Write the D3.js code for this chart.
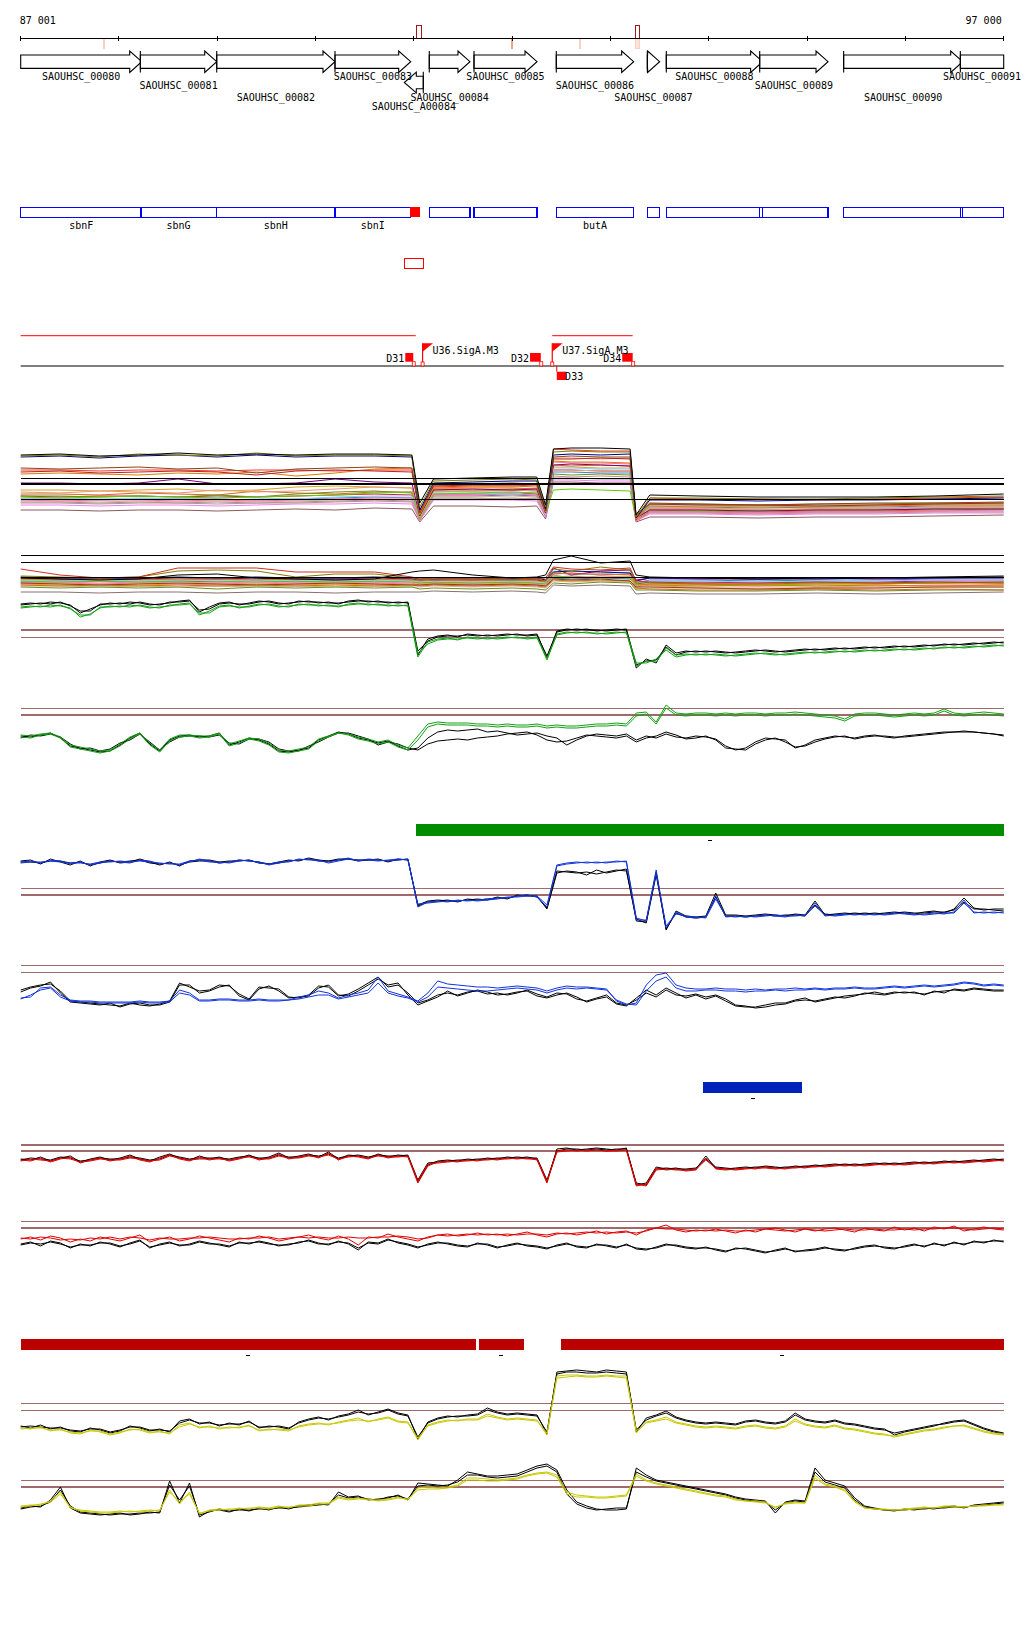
<!DOCTYPE html>
<html>
<head>
<meta charset="utf-8">
<script src="https://cdn.jsdelivr.net/npm/d3@7"></script>
<style>
  body { margin: 0; background: #fff; }
  svg { display: block; }
  text { font-family: "DejaVu Sans Mono", "Liberation Mono", monospace; font-size: 10px; fill: #000; }
</style>
</head>
<body>
<svg id="chart" width="1024" height="1640"></svg>
<script>
// ---- region shown ----
const viewStart = 87001
const viewEnd = 97000
const rulerTicks = [87001, 88000, 89000, 90000, 91000, 92000, 93000, 94000, 95000, 96000, 97000]

// ---- annotation ----
const geneNames = ["SAOUHSC_00080", "SAOUHSC_00081", "SAOUHSC_00082", "SAOUHSC_00083", "SAOUHSC_A00084", "SAOUHSC_00084",
  "SAOUHSC_00085", "SAOUHSC_00086", "SAOUHSC_00087", "SAOUHSC_00088", "SAOUHSC_00089", "SAOUHSC_00090", "SAOUHSC_00091"]
const geneStarts = [86900, 88218, 88995, 90198, 90903, 91157, 91612, 92449, 93375, 93568, 94518, 95372, 96559]
const geneEnds = [88232, 88995, 90198, 90968, 91096, 91571, 92253, 93236, 93500, 94548, 95213, 96583, 97300]
const geneStrands = [1, 1, 1, 1, -1, 1, 1, 1, 1, 1, 1, 1, 1]
const geneSymbols = ["sbnF", "sbnG", "sbnH", "sbnI", "", "", "", "butA", "", "", "", "", ""]
const smallRnas = [[90963, 91061]]

const rulerMarks = [
  {start: 87842, end: 87856, kind: "weak"},
  {start: 91030, end: 91075, kind: "strong"},
  {start: 91990, end: 92005, kind: "mid"},
  {start: 92680, end: 92700, kind: "weak"},
  {start: 93253, end: 93294, kind: "strong"},
  {start: 93253, end: 93294, kind: "weak"}
]

const transcriptUnits = [[87001, 91019], [92408, 93226]]
const terminators = [
  {name: "D31", start: 90913, end: 90994, strand: 1},
  {name: "D32", start: 92182, end: 92291, strand: 1},
  {name: "D33", start: 92454, end: 92549, strand: -1},
  {name: "D34", start: 93120, end: 93226, strand: 1}
]
const promoters = [{name: "U36.SigA.M3", pos: 91089}, {name: "U37.SigA.M3", pos: 92408}]

// ---- segment bars ----
const greenSegments = [[91022, 97000]]
const blueSegments = [[93942, 94949]]
const redSegments = [[87001, 91628], [91660, 92117], [92492, 97000]]

// ---- probe positions ----
const probePos = d3.range(0, 100).map(i => 87001 + i * 101)
const coarsePos = [87001, 87400, 87800, 88200, 88600, 89000, 89400, 89800, 90200, 90600, 90980, 91060, 91200, 91600,
  92000, 92250, 92340, 92420, 92600, 92900, 93200, 93260, 93400, 93900, 94500, 95100, 95700, 96300, 97000]

// ---- bundle tracks (many conditions) ----
const bundleA = [
  [70,71,69,70,72,70,71,70,71,71, 70, 22, 46,47,48,48, 20, 76,77,77,76, 10, 30,29,28,28,28,29,31],
  [69,70,68,71,70,69,72,69,70,70, 69, 18, 44,45,46,45, 18, 73,74,73,73, 8, 27,27,26,26,27,28,29],
  [68,69,67,69,70,68,70,68,69,69, 68, 15, 42,43,44,44, 16, 70,71,70,71, 7, 25,25,24,25,25,26,27],
  [57,56,57,58,56,57,52,56,57,58, 57, 12, 40,41,42,41, 14, 68,69,68,68, 9, 22,21,20,21,22,22,23],
  [53,54,52,53,54,53,50,54,55,54, 53, 14, 39,40,40,41, 15, 66,66,67,66, 11, 21,20,20,19,20,21,22],
  [51,52,51,50,52,51,53,49,52,56, 57, 10, 37,38,38,39, 13, 64,63,63,62, 6, 19,18,18,18,19,20,20],
  [55,55,54,55,55,54,55,55,54,55, 55, 11, 38,39,39,40, 14, 76,75,74,74, 5, 27,26,26,25,26,27,28],
  [42,42,41,42,46,41,41,42,46,43, 42, 9, 35,36,35,36, 12, 60,61,60,59, 7, 15,15,14,15,15,16,16],
  [33,32,34,33,32,35,33,34,36,38, 37, 8, 33,34,34,35, 11, 67,67,66,67, 5, 17,17,16,16,17,18,19],
  [28,27,28,29,28,27,28,29,30,32, 33, 6, 31,32,33,32, 12, 35,36,35,34, 6, 15,14,14,15,15,16,16],
  [27,27,26,27,27,28,27,26,28,29, 29, 7, 32,32,31,33, 10, 57,57,56,56, 6, 19,19,18,19,19,20,20],
  [25,24,25,25,24,25,24,25,26,27, 27, 5, 30,30,31,30, 9, 63,62,62,61, 4, 13,13,12,13,13,14,14],
  [24,24,23,24,23,24,23,24,25,26, 25, 6, 28,28,29,28, 10, 55,54,55,54, 5, 16,16,15,16,16,17,17],
  [29,29,28,29,28,30,28,31,33,34, 32, 8, 34,34,35,34, 11, 51,50,51,50, 7, 21,21,20,21,21,22,22],
  [26,26,25,26,26,26,25,26,27,28, 27, 7, 29,29,30,29, 10, 53,53,52,52, 6, 18,18,17,18,18,19,19],
  [31,31,30,32,31,30,34,32,31,33, 33, 7, 36,35,36,37, 11, 60,59,60,59, 5, 14,14,13,14,14,15,16],
  [22,22,21,22,22,21,22,22,23,24, 23, 5, 27,27,26,27, 9, 49,48,49,48, 4, 12,12,11,12,12,13,13],
  [23,23,22,23,22,23,22,23,24,25, 24, 6, 26,26,27,26, 9, 47,47,46,46, 5, 13,13,12,13,13,14,15],
  [20,20,19,20,20,19,20,21,21,22, 21, 4, 25,25,25,24, 8, 45,45,44,44, 4, 11,11,10,11,11,12,12],
  [15,15,14,15,15,14,15,16,15,17, 16, 3, 19,19,18,19, 6, 43,43,42,42, 3, 8,8,7,8,8,9,10],
  [35,35,34,35,36,34,35,38,39,38, 37, 8, 36,37,37,36, 12, 58,58,57,57, 6, 20,20,19,20,20,21,21],
  [29,28,29,29,28,29,28,29,30,31, 30, 6, 31,31,32,31, 10, 55,55,54,54, 5, 16,16,15,16,16,17,17]
]
const bundleARefs = [46.7, 41, 25.7]

const bundleB = [
  [27,26,25,26,30,31,27,26,25,26, 33, 34, 35,30,27,28, 30, 45,49,42,44, 30, 28,27,26,27,27,28,29],
  [36,30,27,28,37,37,37,33,33,33, 28, 26, 27,26,27,26, 27, 38,36,35,37, 24, 23,22,22,23,22,23,22],
  [29,28,27,28,34,35,34,28,31,31, 27, 25, 26,26,25,26, 24, 36,34,38,35, 22, 22,21,21,22,22,22,23],
  [28,27,27,27,28,27,28,27,27,28, 27, 26, 26,27,26,27, 25, 33,34,33,32, 24, 27,27,26,26,27,27,28],
  [26,25,26,25,26,26,25,26,25,26, 25, 24, 25,24,25,24, 23, 32,31,31,30, 21, 20,19,20,19,20,19,20],
  [27,26,26,26,27,26,27,26,26,27, 26, 25, 25,25,26,25, 24, 37,30,34,35, 25, 27,26,26,27,26,27,27],
  [25,24,25,24,25,25,24,25,24,25, 24, 23, 24,23,24,23, 22, 34,30,31,33, 22, 24,24,23,24,24,25,25],
  [24,23,24,23,24,24,23,24,23,24, 23, 22, 23,22,23,22, 21, 29,28,27,28, 20, 21,21,20,21,21,22,22],
  [22,21,20,21,22,21,20,21,22,21, 20, 20, 21,20,21,20, 19, 26,25,26,24, 18, 18,17,16,17,17,18,18],
  [23,22,23,22,23,22,23,22,23,22, 23, 21, 22,21,22,21, 20, 30,27,29,28, 19, 19,18,18,18,19,19,20],
  [21,22,21,22,21,21,22,21,22,21, 22, 20, 21,20,21,20, 19, 28,29,27,28, 18, 20,20,19,20,19,20,20],
  [20,19,20,19,20,19,20,19,20,19, 20, 19, 20,19,20,19, 18, 25,24,25,24, 17, 16,15,15,16,15,16,15],
  [25,25,26,26,25,26,26,25,26,25, 26, 24, 25,25,24,25, 23, 27,26,27,26, 22, 25,25,24,25,25,26,26],
  [13,13,12,13,13,12,13,13,12,13, 13, 13, 14,13,14,13, 12, 20,19,20,19, 11, 12,11,11,12,11,12,13],
  [18,17,18,17,18,16,18,17,18,17, 18, 16, 17,16,17,16, 15, 22,21,23,22, 15, 15,14,14,15,14,15,15],
  [19,19,18,19,18,19,18,19,18,19, 18, 18, 19,18,19,18, 17, 24,23,24,23, 16, 17,17,16,17,17,18,18],
  [23,23,24,23,24,23,24,23,24,23, 24, 22, 23,22,23,22, 21, 31,32,30,31, 21, 23,23,22,23,23,24,24],
  [21,20,21,20,21,20,21,20,21,20, 21, 20, 21,21,20,21, 19, 27,26,27,26, 19, 21,21,20,21,21,22,22]
]
const bundleBRefs = [49.3, 42.7, 27.7]

// ---- paired tracks ----
const trC_black1 = [71,72,71,73,72,70,62,66,70,72, 71,73,72,70,71,72,74,75,63,68, 72,73,70,72,74,73,71,72,73,74, 72,73,71,74,75,73,74,72,73,72,
  20,36,39,40,38,41,40,39,40,41, 40,40,41,17,44,46,45,46,44,45, 46,45,7,16,12,30,22,24,23,24, 23,22,23,24,25,24,23,24,25,26,
  25,26,27,26,27,28,27,28,29,28, 29,30,29,31,30,31,32,31,32,33]
const trC_black2 = [70,71,72,71,73,69,64,64,71,71, 72,71,73,71,70,73,73,74,65,66, 71,72,71,71,73,74,72,71,74,73, 73,72,72,73,74,74,73,73,72,73,
  24,34,38,39,39,40,39,40,39,40, 41,39,40,19,43,45,46,45,45,44, 45,46,10,14,15,28,20,23,24,23, 24,23,22,23,24,25,24,23,24,25,
  26,25,26,27,26,27,28,27,28,29, 28,29,30,30,31,30,31,32,33,32]
const trC_green1 = [68,69,68,70,69,67,58,61,67,69, 68,70,69,67,68,69,71,72,60,64, 69,70,67,69,71,70,68,69,70,71, 69,70,68,71,72,70,71,69,70,69,
  18,33,36,37,35,38,37,36,37,38, 37,37,38,15,41,43,42,43,41,42, 43,42,9,14,13,27,20,21,20,21, 20,19,20,21,22,21,20,21,22,23,
  22,23,24,23,24,25,24,25,26,25, 26,27,26,28,27,28,29,28,29,30]
const trC_green2 = [67,68,69,68,70,66,60,60,68,68, 69,68,70,68,67,70,70,71,62,62, 68,69,68,68,70,71,69,68,71,70, 70,69,69,70,71,71,70,70,69,70,
  22,31,35,36,36,37,36,37,36,37, 38,36,37,17,40,42,43,42,42,41, 42,43,12,12,16,25,18,20,21,20, 21,20,19,20,21,22,21,20,21,22,
  23,22,23,24,23,24,25,24,25,26, 25,26,27,27,28,27,28,29,30,29]
const trC_refs = [45, 37.7]

const trD_black1 = [24,23,25,27,22,14,12,10,8,9, 15,22,27,16,9,20,24,25,23,24, 27,15,18,22,20,16,9,8,10,12, 20,24,28,26,22,20,17,19,14,10,
  12,22,28,30,29,30,31,28,29,27, 25,26,27,24,22,15,20,24,26,25, 24,26,20,24,22,26,23,22,24,23, 21,14,10,12,18,22,21,20,12,15,
  20,22,24,23,22,24,25,23,22,24, 25,26,27,28,28,29,28,27,26,24]
const trD_black2 = [22,25,24,26,23,16,11,12,9,11, 17,20,26,18,10,18,23,24,24,23, 25,17,16,21,21,18,11,9,9,14, 18,23,27,27,24,21,15,18,16,12,
  10,16,19,20,21,20,22,23,24,26, 27,28,25,20,18,19,22,25,24,23, 22,24,18,22,24,28,25,21,22,24, 20,12,11,10,16,20,22,18,13,14,
  18,21,23,24,21,23,24,24,23,23, 24,25,26,27,28,28,28,27,26,25]
const trD_green1 = [25,24,26,27,23,15,13,11,9,10, 16,23,27,17,10,21,25,25,24,24, 27,16,19,22,21,17,10,9,11,13, 21,24,27,26,23,21,18,20,15,12,
  24,36,38,37,37,37,36,36,35,36, 35,35,36,34,35,34,34,35,36,36, 37,36,47,48,38,55,47,46,47,47, 46,47,46,47,47,46,47,47,48,47,
  46,45,44,41,46,47,47,46,45,46, 47,46,47,51,47,46,47,48,47,46]
const trD_green2 = [23,22,25,26,22,13,11,9,7,9, 14,21,26,15,8,19,23,24,22,23, 26,14,17,21,19,15,8,7,9,11, 19,23,27,25,21,19,16,18,13,10,
  20,33,36,35,35,35,34,34,33,34, 33,33,34,32,33,32,32,33,34,34, 35,34,44,46,36,52,45,44,45,45, 44,45,44,45,45,44,45,45,46,45,
  44,43,42,39,44,45,45,44,43,44, 45,44,45,49,45,44,45,46,45,44]
const trD_refs = [51.7, 45]

const trF_blue1 = [73,74,72,75,74,71,73,70,72,74, 73,72,75,74,71,72,70,73,76,74, 72,73,75,74,73,70,72,74,75,76, 74,73,75,77,74,76,75,74,75,76,
  28,33,34,33,35,34,35,36,37,37, 39,40,38,28,70,72,73,72,73,72, 74,73,15,15,65,7,23,18,17,18, 39,18,19,18,19,20,19,18,20,19,
  32,19,20,21,20,21,20,21,22,21, 20,21,22,21,23,35,22,23,22,23]
const trF_blue2 = [72,73,73,74,73,72,72,71,73,73, 74,73,74,73,72,71,71,74,75,73, 73,72,74,75,72,71,73,73,76,75, 75,72,74,76,75,75,74,75,76,75,
  31,32,33,34,34,35,34,35,36,38, 38,39,39,30,69,71,72,73,72,73, 73,74,17,14,62,9,21,19,18,17, 36,19,18,19,18,19,20,19,19,20,
  29,20,19,20,21,20,21,20,21,22, 21,20,21,22,22,32,23,22,23,22]
const trF_black1 = [74,75,71,76,73,70,74,69,73,75, 72,73,76,73,70,73,69,74,75,75, 73,74,74,75,72,71,73,75,74,77, 75,74,76,76,75,75,76,73,76,75,
  30,34,35,34,34,35,36,35,38,36, 40,39,39,26,62,64,63,60,65,62, 64,66,14,13,63,5,24,19,18,19, 42,20,20,19,20,21,20,19,21,20,
  34,20,21,22,21,22,21,22,23,22, 21,23,24,22,26,37,27,25,26,26]
const trF_black2 = [73,73,72,74,74,72,73,70,72,74, 73,74,75,72,71,72,70,73,74,74, 72,73,75,74,73,71,72,74,75,76, 74,74,75,76,74,75,75,74,75,76,
  29,33,34,35,33,36,35,36,37,37, 39,40,38,27,64,63,62,63,61,63, 65,64,16,12,60,6,22,18,17,18, 38,19,19,18,19,20,19,20,20,19,
  30,21,20,21,22,21,22,21,22,23, 22,22,23,23,25,33,26,26,25,24]
const trF_refs = [46.7, 40]

const trG_black1 = [25,28,30,31,24,14,13,12,11,10, 9,12,10,9,11,14,32,28,24,25, 30,29,21,16,28,27,26,18,17,20, 29,28,19,21,26,32,38,28,30,22,
  12,15,20,22,20,23,24,21,22,20, 22,25,21,18,22,21,16,14,17,20, 12,10,15,22,18,25,20,19,21,18, 20,16,10,9,7,8,10,11,14,15,
  14,16,18,17,19,22,21,20,22,23, 22,21,23,24,25,24,26,25,24,24]
const trG_black2 = [23,27,29,33,22,13,12,11,10,12, 8,11,12,10,10,13,30,30,22,24, 28,30,19,15,26,29,24,17,18,19, 27,30,20,19,24,30,36,30,32,20,
  10,14,18,24,19,22,25,23,20,21, 23,24,19,17,20,22,18,13,16,18, 11,9,17,25,20,27,22,17,20,16, 19,14,9,8,8,10,12,12,15,17,
  13,15,17,19,20,21,23,21,23,22, 23,20,24,22,26,25,27,26,25,25]
const trG_blue1 = [17,18,27,28,20,15,14,14,13,13, 13,13,14,13,13,14,25,22,15,15, 16,16,15,15,16,15,15,15,18,20, 24,22,17,20,22,25,38,24,21,18,
  14,22,34,31,30,29,28,28,27,28, 29,28,27,24,27,29,28,28,27,26, 14,10,12,30,40,42,30,27,26,26, 27,26,26,25,26,25,26,26,27,26,
  27,26,27,27,28,27,27,28,29,28, 29,30,29,30,31,33,32,30,31,30]
const trG_blue2 = [16,20,25,27,18,14,13,13,12,12, 12,12,13,12,12,13,22,20,14,14, 15,15,14,14,15,14,14,15,16,18, 20,20,16,18,20,22,32,22,19,17,
  13,18,28,27,26,25,24,24,25,26, 27,26,25,22,25,27,26,27,26,25, 15,11,10,24,34,38,27,24,24,25, 25,24,24,23,24,24,25,24,25,25,
  26,25,26,26,27,26,26,27,28,27, 28,29,28,29,30,32,31,29,30,29]
const trG_refs = [49.7, 42.7]

const trI_black1 = [36,35,38,34,37,39,33,36,38,35, 37,40,36,34,38,41,37,35,39,36, 38,35,37,40,36,38,42,37,39,41, 38,43,36,40,39,37,41,38,40,39,
  13,30,34,35,34,36,35,37,36,38, 37,38,36,13,46,47,45,46,47,46, 45,47,10,12,28,26,27,25,26,39, 27,26,27,28,27,29,28,27,29,28,
  30,29,30,31,30,31,32,31,32,31, 32,33,32,34,33,34,35,34,35,36]
const trI_black2 = [35,37,36,35,38,37,34,35,37,36, 36,38,37,35,36,40,38,36,37,37, 37,36,38,39,37,37,40,38,38,40, 39,41,37,39,40,38,40,39,39,40,
  15,32,33,34,35,35,36,36,37,37, 38,37,37,15,44,46,46,45,46,45, 46,46,12,10,26,27,26,26,27,36, 28,27,26,27,28,28,27,28,28,29,
  29,30,31,30,31,30,31,32,31,32, 33,32,33,33,34,33,34,35,36,35]
const trI_red1 = [35,34,37,33,36,38,32,35,37,34, 36,39,35,33,37,40,36,34,38,35, 37,34,36,39,35,37,41,36,38,40, 37,42,35,39,38,36,40,37,39,38,
  12,29,33,34,33,35,34,36,35,37, 36,37,35,12,44,45,44,45,45,44, 44,45,9,11,27,25,26,24,25,37, 26,25,26,27,26,28,27,26,28,27,
  29,28,29,30,29,30,31,30,31,30, 31,32,31,33,32,33,34,33,34,35]
const trI_red2 = [34,36,35,34,37,36,33,34,36,35, 35,37,36,34,35,39,37,35,36,36, 36,35,37,38,36,36,39,37,37,39, 38,40,36,38,39,37,39,38,38,39,
  14,31,32,33,34,34,35,35,36,36, 37,36,36,14,43,44,45,44,45,44, 45,45,11,9,25,26,25,25,26,35, 27,26,25,26,27,27,26,27,27,28,
  28,29,30,29,30,29,30,31,30,31, 32,31,32,32,33,32,33,34,35,34]
const trI_refs = [50, 44]

const trJ_black1 = [21,23,19,24,22,17,21,19,23,21, 18,22,25,17,21,23,19,21,24,22, 20,18,23,21,24,22,19,21,22,25, 22,20,24,21,15,23,22,26,22,20,
  17,21,23,21,19,18,22,20,17,20, 22,19,18,16,20,22,18,17,21,19, 17,21,16,15,18,21,19,17,16,18, 15,13,17,16,14,12,15,17,13,15,
  16,18,15,14,17,19,20,17,16,19, 21,18,22,19,23,20,24,22,25,23]
const trJ_black2 = [20,22,21,23,21,18,20,20,22,22, 19,21,24,18,20,22,20,20,23,21, 21,19,22,22,23,21,20,20,23,24, 21,21,23,22,17,22,21,25,23,21,
  18,20,22,22,20,19,21,21,18,19, 21,20,19,17,19,21,19,18,20,20, 18,20,17,16,17,20,20,18,17,17, 16,14,16,17,15,13,14,16,14,14,
  15,17,16,15,16,18,19,18,17,18, 20,19,21,20,22,21,23,23,24,24]
const trJ_red1 = [26,28,25,29,27,23,26,24,28,26, 24,27,30,23,26,28,24,26,29,27, 25,23,27,26,29,27,24,26,28,30, 27,25,29,26,20,28,27,31,28,26,
  24,28,30,31,29,30,32,30,31,29, 31,33,30,28,31,32,30,32,34,31, 33,34,30,35,37,40,35,33,35,34, 36,34,32,35,33,36,37,35,33,36,
  34,36,37,35,33,37,35,34,38,35, 37,34,38,36,39,34,36,38,36,35]
const trJ_red2 = [27,26,28,27,25,26,25,27,26,28, 26,28,27,25,27,26,26,27,27,28, 27,26,26,27,27,28,26,27,28,27, 28,27,27,28,27,27,28,28,29,28,
  26,27,30,29,30,31,30,31,30,31, 30,31,31,30,32,31,32,33,32,33, 32,33,32,34,37,36,36,35,34,35, 34,35,34,34,35,36,35,34,35,36,
  35,34,35,36,35,35,36,35,35,36, 35,36,36,37,37,36,35,36,37,36]
const trJ_refs = [43.4, 37]

const trL_black1 = [24,22,25,21,23,19,18,22,20,17, 19,24,22,19,21,18,29,31,26,28, 24,27,25,29,22,24,23,21,28,31, 33,30,34,36,40,35,38,41,37,35,
  11,28,32,34,33,35,36,42,38,36, 37,36,35,16,78,79,80,79,78,80, 79,78,18,32,35,39,33,30,28,27, 28,27,26,29,30,28,27,29,37,31,
  29,28,30,27,26,24,22,21,15,18, 20,22,24,27,29,30,26,22,19,17]
const trL_black2 = [23,24,23,22,22,20,19,21,21,18, 20,23,23,20,20,19,27,30,27,27, 25,26,26,28,23,23,24,22,27,30, 32,31,33,35,38,36,37,40,36,34,
  13,27,31,33,34,34,35,40,37,35, 36,35,34,18,76,78,78,77,77,78, 77,76,20,30,34,37,32,29,27,26, 27,26,25,28,29,27,26,28,35,30,
  28,27,29,26,25,23,21,20,17,19, 21,23,25,26,28,29,25,21,18,16]
const trL_yellow1 = [22,21,23,19,21,17,16,20,18,15, 17,21,20,17,19,16,25,27,22,24, 21,23,22,25,19,21,20,19,24,26, 27,25,28,30,32,28,31,33,29,28,
  10,25,28,30,29,31,31,36,33,31, 32,31,30,15,74,75,75,74,74,75, 74,74,17,28,30,33,28,26,24,23, 24,23,22,24,25,23,22,24,31,26,
  24,23,25,22,21,19,17,16,13,15, 17,19,20,22,24,25,22,19,17,16]
const trL_yellow2 = [21,22,22,20,20,18,17,19,19,16, 18,20,21,18,18,17,23,26,23,23, 22,22,23,24,20,20,21,20,23,25, 26,26,27,29,30,29,30,32,28,27,
  12,24,27,29,30,30,30,34,32,30, 31,30,29,17,72,73,74,73,73,74, 73,72,19,27,29,31,27,25,23,22, 23,22,21,23,24,22,21,23,29,25,
  23,22,24,21,20,18,16,15,14,16, 18,20,21,23,24,24,21,18,16,15]
const trL_refs = [46.7, 39.7]

const trM_black1 = [22,24,23,30,43,22,17,16,15,16, 17,15,16,18,17,49,27,47,13,19, 20,18,21,19,22,20,23,21,24,25, 26,25,38,33,34,30,31,32,35,30,
  47,46,45,44,50,58,56,54,54,55, 56,60,64,66,60,40,28,24,21,20, 20,21,62,55,50,48,46,44,42,40, 38,36,33,31,30,29,17,28,30,29,
  62,50,47,44,32,24,22,20,19,21, 20,22,21,23,24,22,25,26,27,28]
const trM_black2 = [21,23,24,28,40,24,18,17,16,15, 16,16,17,17,18,45,30,44,15,18, 21,19,20,20,21,21,22,22,23,24, 25,26,35,32,33,31,30,33,34,31,
  44,45,44,45,48,55,55,53,52,53, 54,58,62,64,58,36,26,22,20,21, 22,22,58,53,49,47,45,43,41,39, 37,35,32,30,29,28,20,27,29,28,
  58,48,45,42,30,23,21,20,20,20, 21,21,22,22,23,23,24,25,26,27]
const trM_yellow1 = [24,25,25,29,38,22,20,19,18,18, 19,18,19,20,19,40,26,38,16,20, 21,20,22,21,23,22,24,22,25,25, 27,27,33,31,32,30,30,31,33,30,
  42,43,42,43,45,52,52,51,50,51, 52,55,57,58,55,38,35,34,33,33, 34,35,56,50,47,45,43,41,39,37, 35,34,31,29,29,28,22,27,28,27,
  55,46,44,40,29,22,21,20,20,21, 22,23,22,24,24,23,24,25,25,26]
const trM_yellow2 = [23,24,26,28,36,23,19,18,17,17, 18,19,18,19,20,38,28,36,17,19, 20,21,21,22,22,21,23,23,24,24, 26,26,32,30,31,31,29,30,32,31,
  40,41,41,42,44,50,50,49,49,50, 51,54,56,57,53,36,33,33,32,32, 33,34,54,49,46,44,42,40,38,36, 34,33,30,29,28,27,23,26,27,27,
  52,45,43,39,28,22,21,21,20,20, 21,22,22,23,23,23,24,24,25,25]
const trM_refs = [49.7, 43]

// =====================================================================

const svg = d3.select("#chart")
const x = d3.scaleLinear().domain([viewStart, viewEnd]).range([20.7, 1003.7])
const fmt = v => d3.format(",")(v).replace(",", " ")

function drawRuler() {
  const y0 = 38.3
  const g = svg.append("g").attr("shape-rendering", "crispEdges")

  // marks on the ruler
  g.selectAll(".mark").data(rulerMarks).enter().append("rect")
    .attr("class", "mark")
    .attr("x", d => x(d.start))
    .attr("width", d => Math.max(1.5, x(d.end) - x(d.start)))
    .attr("y", d => d.kind === "strong" ? 25.3 : y0 + 0.5)
    .attr("height", d => d.kind === "strong" ? 13 : 10)
    .attr("fill", d => d.kind === "strong" ? "#fff" : "#fbe3da")
    .attr("stroke", d => d.kind === "strong" ? "#a01818" : (d.kind === "mid" ? "#f0a282" : "#f7d2c4"))
    .attr("stroke-width", 1)

  g.append("line")
    .attr("x1", x(viewStart)).attr("x2", x(viewEnd))
    .attr("y1", y0).attr("y2", y0)
    .attr("stroke", "#000").attr("stroke-width", 1)

  g.selectAll(".tick").data(rulerTicks).enter().append("line")
    .attr("x1", d => x(d)).attr("x2", d => x(d))
    .attr("y1", y0 - 2.5).attr("y2", y0 + 2.5)
    .attr("stroke", "#000")

  svg.append("text").attr("x", x(viewStart) - 1).attr("y", 23.5).text(fmt(viewStart))
  svg.append("text").attr("x", x(viewEnd) - 2).attr("y", 23.5).attr("text-anchor", "end").text(fmt(viewEnd))
}

function drawGenes() {
  const labelRows = [0, 1, 2, 0, 3, 2, 0, 1, 2, 0, 1, 2, 0]
  const labelBase = [80, 89, 101, 110]
  const headLen = 12

  const genes = geneNames.map((name, i) => ({
    name: name, start: geneStarts[i], end: geneEnds[i], strand: geneStrands[i], row: labelRows[i]
  }))

  const g = svg.append("g")

  genes.forEach(gene => {
    const x0 = x(Math.max(gene.start, viewStart))
    const x1 = x(Math.min(gene.end, viewEnd))
    const fwd = gene.strand > 0
    const cy = fwd ? 61.7 : 82.5
    const clipped = fwd ? gene.end > viewEnd : gene.start < viewStart
    const head = clipped ? 0 : Math.min(headLen, x1 - x0)
    let pts
    if (fwd) {
      pts = [[x0, cy - 6.7], [x1 - head, cy - 6.7], [x1 - head, cy - 10.7], [x1, cy],
        [x1 - head, cy + 10.7], [x1 - head, cy + 6.7], [x0, cy + 6.7]]
    } else {
      pts = [[x1, cy - 6.3], [x0 + head, cy - 6.3], [x0 + head, cy - 10.3], [x0, cy],
        [x0 + head, cy + 10.3], [x0 + head, cy + 6.3], [x1, cy + 6.3]]
    }
    if (head === 0) {
      pts = [[x0, cy - 6.7], [x1, cy - 6.7], [x1, cy + 6.7], [x0, cy + 6.7]]
    }
    g.append("path")
      .attr("d", d3.line()(pts) + "Z")
      .attr("fill", "#fff").attr("stroke", "#000").attr("stroke-width", 1.1)

    // start tick
    const startVisible = fwd ? gene.start > viewStart : gene.end < viewEnd
    if (startVisible) {
      const sx = fwd ? x0 : x1
      g.append("line")
        .attr("x1", sx).attr("x2", sx)
        .attr("y1", cy - 10.7).attr("y2", cy + 10.7)
        .attr("stroke", "#000").attr("stroke-width", 1.1)
    }
  })

  g.selectAll(".glabel").data(genes).enter().append("text")
    .attr("class", "glabel")
    .attr("x", d => (x(Math.max(d.start, viewStart)) + x(Math.min(d.end, viewEnd))) / 2)
    .attr("y", d => labelBase[d.row])
    .attr("text-anchor", "middle")
    .text(d => d.name)
}

function drawCds() {
  const g = svg.append("g").attr("shape-rendering", "crispEdges")
  const rows = geneNames.map((n, i) => ({
    x0: x(Math.max(geneStarts[i], viewStart)), x1: x(Math.min(geneEnds[i], viewEnd)),
    strand: geneStrands[i], symbol: geneSymbols[i]
  }))

  g.selectAll(".cds").data(rows).enter().append("rect")
    .attr("class", "cds")
    .attr("x", d => d.x0).attr("width", d => d.x1 - d.x0)
    .attr("y", d => d.strand > 0 ? 207.3 : 258.3).attr("height", 10)
    .attr("fill", "none")
    .attr("stroke", d => d.strand > 0 ? "#0000ff" : "#ff0000")
    .attr("stroke-width", 1.4)

  g.selectAll(".rna").data(smallRnas).enter().append("rect")
    .attr("x", d => x(d[0])).attr("width", d => x(d[1]) - x(d[0]))
    .attr("y", 207.3).attr("height", 10)
    .attr("fill", "#ff0000")

  svg.selectAll(".sym").data(rows.filter(d => d.symbol)).enter().append("text")
    .attr("class", "sym")
    .attr("x", d => (d.x0 + d.x1) / 2).attr("y", 228.5)
    .attr("text-anchor", "middle")
    .text(d => d.symbol)
}

function drawTerminators() {
  const base = 366
  const red = "#ff0000"
  const g = svg.append("g")

  g.selectAll(".tu").data(transcriptUnits).enter().append("line")
    .attr("x1", d => x(d[0])).attr("x2", d => x(d[1]))
    .attr("y1", 335.7).attr("y2", 335.7)
    .attr("stroke", red).attr("stroke-width", 1)

  g.append("line")
    .attr("x1", x(viewStart)).attr("x2", x(viewEnd))
    .attr("y1", base).attr("y2", base)
    .attr("stroke", "#000").attr("stroke-width", 1.2)

  terminators.forEach(t => {
    const x0 = x(t.start), x1 = x(t.end)
    if (t.strand > 0) {
      g.append("rect").attr("x", x0).attr("y", 353).attr("width", x1 - x0).attr("height", 8.7).attr("fill", red)
      g.append("rect").attr("x", x1 - 1).attr("y", 361.7).attr("width", 3).attr("height", base - 361.7)
        .attr("fill", "#fff").attr("stroke", red).attr("stroke-width", 0.8)
      g.append("text").attr("x", x0 - 1).attr("y", 361.5).attr("text-anchor", "end").text(t.name)
    } else {
      g.append("line").attr("x1", x0).attr("x2", x0).attr("y1", base).attr("y2", 371.7)
        .attr("stroke", red).attr("stroke-width", 1)
      g.append("rect").attr("x", x0).attr("y", 371.7).attr("width", x1 - x0).attr("height", 8.3).attr("fill", red)
      g.append("text").attr("x", x1 - 1).attr("y", 380).text(t.name)
    }
  })

  promoters.forEach(p => {
    const px = x(p.pos)
    g.append("line").attr("x1", px).attr("x2", px).attr("y1", 343.3).attr("y2", base)
      .attr("stroke", red).attr("stroke-width", 1.2)
    g.append("rect").attr("x", px - 1.5).attr("y", 362).attr("width", 3).attr("height", 4)
      .attr("fill", "#fff").attr("stroke", red).attr("stroke-width", 0.8)
    g.append("path")
      .attr("d", d3.line()([[px, 343.3], [px + 10.4, 343.3], [px, 351.7]]) + "Z")
      .attr("fill", red)
    g.append("text").attr("x", px + 10).attr("y", 354).text(p.name)
  })
}

function refLines(g, y, refs, color, width) {
  g.selectAll(".ref").data(refs).enter().append("line")
    .attr("class", "ref")
    .attr("x1", x(viewStart)).attr("x2", x(viewEnd))
    .attr("y1", d => y(d)).attr("y2", d => y(d))
    .attr("stroke", color).attr("stroke-width", width)
    .attr("shape-rendering", "crispEdges")
}

function drawBundle(base, series, colors, refs) {
  const y = d3.scaleLinear().domain([0, 100]).range([base, base - 100])
  const g = svg.append("g")
  const line = d3.line().x((d, i) => x(coarsePos[i])).y(d => y(d))

  const order = series.map((s, i) => i).reverse()
  g.selectAll(".bl").data(order).enter().append("path")
    .attr("class", "bl")
    .attr("d", i => line(series[i]))
    .attr("fill", "none")
    .attr("stroke", i => colors[i % colors.length])
    .attr("stroke-width", 1)

  refLines(g, y, refs, "#000", 1.3)
}

function drawPair(base, refs, blacks, coloured, colour) {
  const y = d3.scaleLinear().domain([0, 100]).range([base, base - 100])
  const g = svg.append("g")
  const line = d3.line().x((d, i) => x(probePos[i])).y(d => y(d))

  refLines(g, y, refs, "#a06a6a", 1.3)

  g.selectAll(".blk").data(blacks).enter().append("path")
    .attr("class", "blk")
    .attr("d", line).attr("fill", "none")
    .attr("stroke", "#000").attr("stroke-width", 1)

  g.selectAll(".col").data(coloured).enter().append("path")
    .attr("class", "col")
    .attr("d", line).attr("fill", "none")
    .attr("stroke", colour).attr("stroke-width", 1)
}

function drawSegments(top, segs, colour) {
  const g = svg.append("g").attr("shape-rendering", "crispEdges")
  g.selectAll(".seg").data(segs).enter().append("rect")
    .attr("x", d => x(d[0])).attr("width", d => x(d[1]) - x(d[0]))
    .attr("y", top).attr("height", 11.7)
    .attr("fill", colour)
  // midpoint marks
  g.selectAll(".mid").data(segs).enter().append("line")
    .attr("x1", d => x((d[0] + d[1]) / 2) - 2).attr("x2", d => x((d[0] + d[1]) / 2) + 2)
    .attr("y1", top + 16.5).attr("y2", top + 16.5)
    .attr("stroke", "#000").attr("stroke-width", 1)
}

const coloursA = ["#000000", "#808000", "#000080", "#8b4513", "#b22222", "#e07b00", "#ff3030", "#800080", "#e9967a",
  "#66cc00", "#87cefa", "#ff69b4", "#d2b48c", "#6b8e23", "#4682b4", "#d2691e", "#bc8f8f", "#999999", "#ee82ee",
  "#8b5a5a", "#daa520", "#dc143c"]
const coloursB = ["#000000", "#d03020", "#808000", "#000080", "#e07b00", "#800080", "#87cefa", "#66cc00", "#8b4513",
  "#e9967a", "#ff69b4", "#d2691e", "#4682b4", "#8b7070", "#6b8e23", "#d2b48c", "#c71585", "#daa520"]

drawRuler()
drawGenes()
drawCds()
drawTerminators()

drawBundle(525, bundleA, coloursA, bundleARefs)
drawBundle(605, bundleB, coloursB, bundleBRefs)

drawPair(675, trC_refs, [trC_black1, trC_black2], [trC_green1, trC_green2], "#13a013")
drawPair(760, trD_refs, [trD_black1, trD_black2], [trD_green1, trD_green2], "#13a013")
drawSegments(824, greenSegments, "#008c00")
drawPair(935, trF_refs, [trF_black1, trF_black2], [trF_blue1, trF_blue2], "#1133dd")
drawPair(1015, trG_refs, [trG_black1, trG_black2], [trG_blue1, trG_blue2], "#1133dd")
drawSegments(1081.5, blueSegments, "#0022bb")
drawPair(1195, trI_refs, [trI_black1, trI_black2], [trI_red1, trI_red2], "#e00000")
drawPair(1265, trJ_refs, [trJ_black1, trJ_black2], [trJ_red1, trJ_red2], "#e00000")
drawSegments(1338.5, redSegments, "#bb0000")
drawPair(1450, trL_refs, [trL_black1, trL_black2], [trL_yellow1, trL_yellow2], "#c8c800")
drawPair(1530, trM_refs, [trM_black1, trM_black2], [trM_yellow1, trM_yellow2], "#c8c800")
</script>
</body>
</html>
